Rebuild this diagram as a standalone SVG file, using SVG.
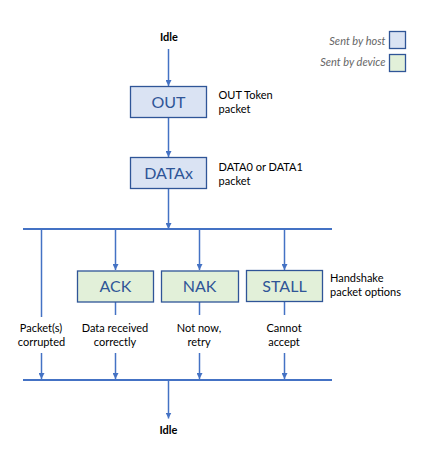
<svg xmlns="http://www.w3.org/2000/svg" width="423" height="461" viewBox="0 0 423 461">
<style>
.ln{stroke:#4472C4;stroke-width:1.5;fill:none}
.bus{stroke:#4472C4;stroke-width:2.2;fill:none}
.host{fill:#DAE3F3;stroke:#2F5597;stroke-width:1.3}
.dev{fill:#E2F0D9;stroke:#2F5597;stroke-width:1.3}
.bt{font-family:Lato,"Open Sans",sans-serif;font-size:16px;fill:#2F5597;text-anchor:middle}
.lb{font-family:Lato,"Open Sans",sans-serif;font-size:11px;fill:#000}
.c{text-anchor:middle}
.idle{font-family:Lato,"Open Sans",sans-serif;font-size:11px;font-weight:bold;fill:#000;text-anchor:middle}
.lg{font-family:Lato,"Open Sans",sans-serif;font-size:11px;font-style:italic;fill:#666;text-anchor:end}
</style>
<defs>
<marker id="ah" markerWidth="6" markerHeight="6" refX="6" refY="3" orient="auto" markerUnits="userSpaceOnUse">
<path d="M0,0 L6,3 L0,6 Z" fill="#4472C4"/>
</marker>
</defs>
<rect width="423" height="461" fill="#fff"/>
<g id="legend">
<text class="lg" x="385.5" y="44.5">Sent by host</text>
<rect class="host" x="389.5" y="31.5" width="16" height="17"/>
<text class="lg" x="385.5" y="65.5">Sent by device</text>
<rect class="dev" x="389.5" y="54.5" width="16" height="17"/>
</g>
<g id="connectors">
<line class="ln" x1="168.5" y1="49" x2="168.5" y2="86" marker-end="url(#ah)"/>
<line class="ln" x1="168.5" y1="117.5" x2="168.5" y2="157" marker-end="url(#ah)"/>
<line class="ln" x1="168.5" y1="188.5" x2="168.5" y2="229" marker-end="url(#ah)"/>
<line class="bus" x1="23" y1="229" x2="332" y2="229"/>
<line class="ln" x1="41.5" y1="229" x2="41.5" y2="317"/>
<line class="ln" x1="115.5" y1="229" x2="115.5" y2="270" marker-end="url(#ah)"/>
<line class="ln" x1="199.5" y1="229" x2="199.5" y2="270" marker-end="url(#ah)"/>
<line class="ln" x1="284.5" y1="229" x2="284.5" y2="270" marker-end="url(#ah)"/>
<line class="ln" x1="115.5" y1="302" x2="115.5" y2="315"/>
<line class="ln" x1="199.5" y1="302" x2="199.5" y2="315"/>
<line class="ln" x1="284.5" y1="302" x2="284.5" y2="315"/>
<line class="ln" x1="41.5" y1="353" x2="41.5" y2="379" marker-end="url(#ah)"/>
<line class="ln" x1="115.5" y1="353" x2="115.5" y2="379" marker-end="url(#ah)"/>
<line class="ln" x1="199.5" y1="353" x2="199.5" y2="379" marker-end="url(#ah)"/>
<line class="ln" x1="284.5" y1="353" x2="284.5" y2="379" marker-end="url(#ah)"/>
<line class="bus" x1="23" y1="380" x2="332" y2="380"/>
<line class="ln" x1="168.5" y1="380" x2="168.5" y2="418.5" marker-end="url(#ah)"/>
</g>
<g id="idle-top"><text class="idle" x="169" y="41">Idle</text></g>
<g id="out">
<rect class="host" x="130.5" y="86.5" width="76" height="31"/>
<text class="bt" x="168.5" y="107.5">OUT</text>
<text class="lb" x="218.5" y="99">OUT Token</text>
<text class="lb" x="218.5" y="112.5">packet</text>
</g>
<g id="datax">
<rect class="host" x="130.5" y="157.5" width="76" height="31"/>
<text class="bt" x="168.5" y="178.5">DATAx</text>
<text class="lb" x="218.5" y="170.5">DATA0 or DATA1</text>
<text class="lb" x="218.5" y="184.5">packet</text>
</g>
<g id="ack">
<rect class="dev" x="77.5" y="271" width="76" height="31"/>
<text class="bt" x="115.5" y="292">ACK</text>
</g>
<g id="nak">
<rect class="dev" x="161.5" y="271" width="77" height="31"/>
<text class="bt" x="199.5" y="292">NAK</text>
</g>
<g id="stall">
<rect class="dev" x="246.5" y="270.5" width="76" height="31"/>
<text class="bt" x="284.5" y="291.5">STALL</text>
<text class="lb" x="330" y="282">Handshake</text>
<text class="lb" x="330" y="296">packet options</text>
</g>
<g id="labels">
<text class="lb c" x="41" y="332">Packet(s)</text>
<text class="lb c" x="41.5" y="346">corrupted</text>
<text class="lb c" x="115" y="332">Data received</text>
<text class="lb c" x="115" y="346">correctly</text>
<text class="lb c" x="199" y="332">Not now,</text>
<text class="lb c" x="199" y="346">retry</text>
<text class="lb c" x="284" y="332">Cannot</text>
<text class="lb c" x="284" y="346">accept</text>
</g>
<g id="idle-bottom"><text class="idle" x="168.5" y="434">Idle</text></g>
</svg>
